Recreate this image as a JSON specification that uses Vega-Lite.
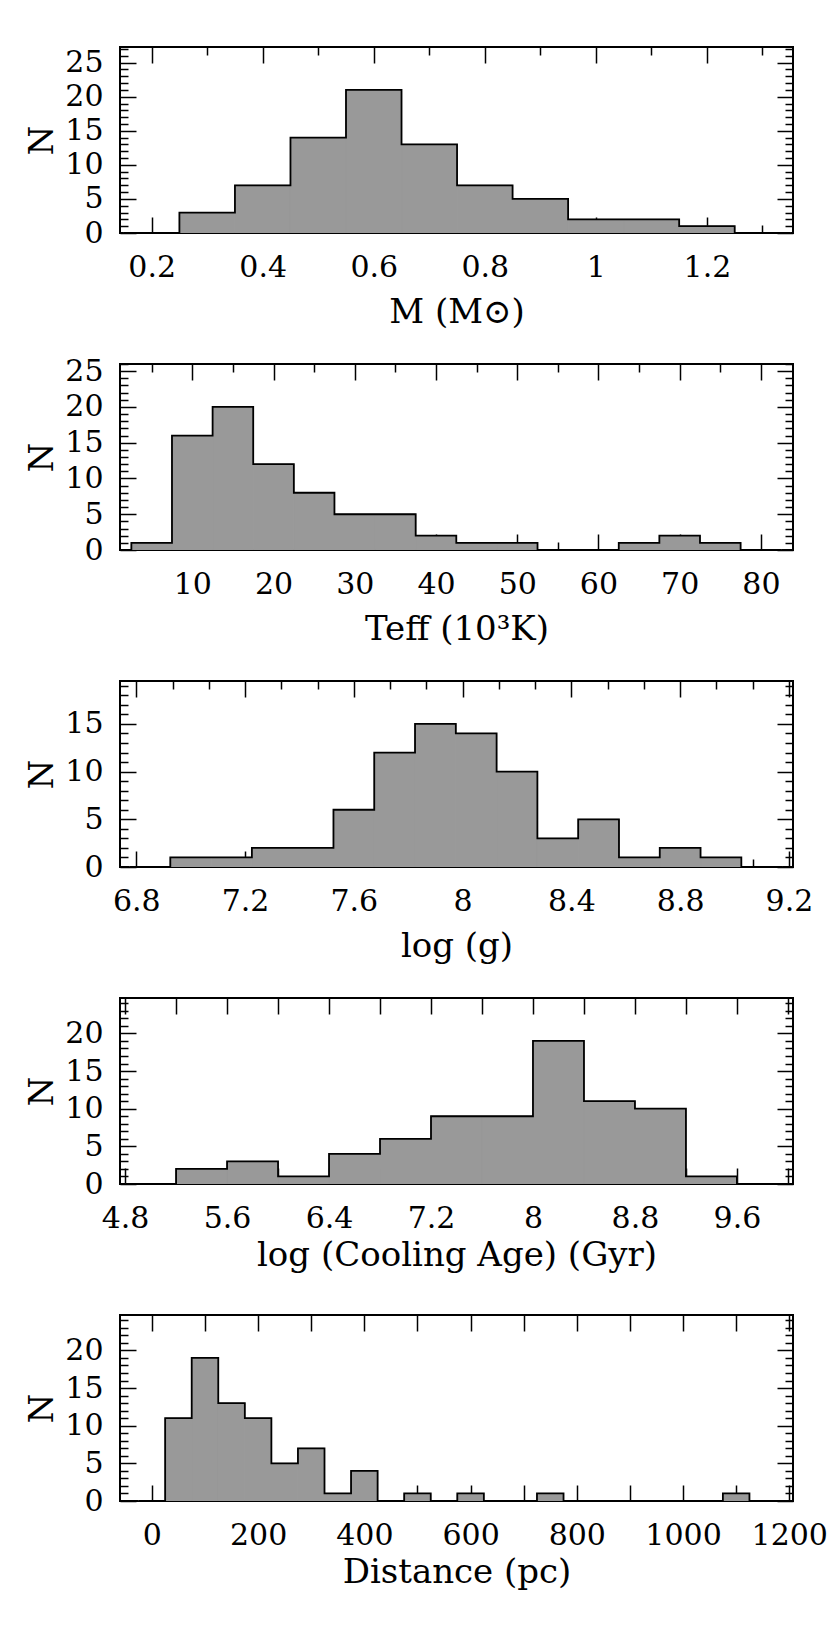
{
  "$schema": "https://vega.github.io/schema/vega-lite/v6.json",
  "padding": {"left": 24, "top": 33, "right": 10, "bottom": 10},
  "background": "white",
  "spacing": 131,
  "bounds": "flush",
  "config": {
    "view": {"stroke": "black", "strokeWidth": 2},
    "axis": {"domain": false, "grid": false, "tickColor": "black", "tickWidth": 1.5, "labelFont": "DejaVu Serif", "labelFontSize": 30, "labelColor": "black", "titleFont": "DejaVu Serif", "titleFontSize": 34, "titleFontWeight": "normal", "titleColor": "black", "labelFlush": false, "labelOverlap": false, "zindex": 1}
  },
  "datasets": {
    "m": [
      {"x0": 0.15, "x1": 0.25, "n": 0}, {"x0": 0.25, "x1": 0.35, "n": 3}, {"x0": 0.35, "x1": 0.45, "n": 7}, {"x0": 0.45, "x1": 0.55, "n": 14}, {"x0": 0.55, "x1": 0.65, "n": 21}, {"x0": 0.65, "x1": 0.75, "n": 13}, {"x0": 0.75, "x1": 0.85, "n": 7}, {"x0": 0.85, "x1": 0.95, "n": 5}, {"x0": 0.95, "x1": 1.05, "n": 2}, {"x0": 1.05, "x1": 1.15, "n": 2}, {"x0": 1.15, "x1": 1.25, "n": 1}, {"x0": 1.25, "x1": 1.35, "n": 0}
    ],
    "teff": [
      {"x0": -2.5, "x1": 2.5, "n": 0}, {"x0": 2.5, "x1": 7.5, "n": 1}, {"x0": 7.5, "x1": 12.5, "n": 16}, {"x0": 12.5, "x1": 17.5, "n": 20}, {"x0": 17.5, "x1": 22.5, "n": 12}, {"x0": 22.5, "x1": 27.5, "n": 8}, {"x0": 27.5, "x1": 32.5, "n": 5}, {"x0": 32.5, "x1": 37.5, "n": 5}, {"x0": 37.5, "x1": 42.5, "n": 2}, {"x0": 42.5, "x1": 47.5, "n": 1}, {"x0": 47.5, "x1": 52.5, "n": 1}, {"x0": 52.5, "x1": 57.5, "n": 0}, {"x0": 57.5, "x1": 62.5, "n": 0}, {"x0": 62.5, "x1": 67.5, "n": 1}, {"x0": 67.5, "x1": 72.5, "n": 2}, {"x0": 72.5, "x1": 77.5, "n": 1}, {"x0": 77.5, "x1": 82.5, "n": 0}
    ],
    "logg": [
      {"x0": 6.775, "x1": 6.925, "n": 0}, {"x0": 6.925, "x1": 7.075, "n": 1}, {"x0": 7.075, "x1": 7.225, "n": 1}, {"x0": 7.225, "x1": 7.375, "n": 2}, {"x0": 7.375, "x1": 7.525, "n": 2}, {"x0": 7.525, "x1": 7.675, "n": 6}, {"x0": 7.675, "x1": 7.825, "n": 12}, {"x0": 7.825, "x1": 7.975, "n": 15}, {"x0": 7.975, "x1": 8.125, "n": 14}, {"x0": 8.125, "x1": 8.275, "n": 10}, {"x0": 8.275, "x1": 8.425, "n": 3}, {"x0": 8.425, "x1": 8.575, "n": 5}, {"x0": 8.575, "x1": 8.725, "n": 1}, {"x0": 8.725, "x1": 8.875, "n": 2}, {"x0": 8.875, "x1": 9.025, "n": 1}, {"x0": 9.025, "x1": 9.175, "n": 0}
    ],
    "age": [
      {"x0": 4.8, "x1": 5.2, "n": 0}, {"x0": 5.2, "x1": 5.6, "n": 2}, {"x0": 5.6, "x1": 6.0, "n": 3}, {"x0": 6.0, "x1": 6.4, "n": 1}, {"x0": 6.4, "x1": 6.8, "n": 4}, {"x0": 6.8, "x1": 7.2, "n": 6}, {"x0": 7.2, "x1": 7.6, "n": 9}, {"x0": 7.6, "x1": 8.0, "n": 9}, {"x0": 8.0, "x1": 8.4, "n": 19}, {"x0": 8.4, "x1": 8.8, "n": 11}, {"x0": 8.8, "x1": 9.2, "n": 10}, {"x0": 9.2, "x1": 9.6, "n": 1}, {"x0": 9.6, "x1": 10.0, "n": 0}
    ],
    "dist": [
      {"x0": -25, "x1": 25, "n": 0}, {"x0": 25, "x1": 75, "n": 11}, {"x0": 75, "x1": 125, "n": 19}, {"x0": 125, "x1": 175, "n": 13}, {"x0": 175, "x1": 225, "n": 11}, {"x0": 225, "x1": 275, "n": 5}, {"x0": 275, "x1": 325, "n": 7}, {"x0": 325, "x1": 375, "n": 1}, {"x0": 375, "x1": 425, "n": 4}, {"x0": 425, "x1": 475, "n": 0}, {"x0": 475, "x1": 525, "n": 1}, {"x0": 525, "x1": 575, "n": 0}, {"x0": 575, "x1": 625, "n": 1}, {"x0": 625, "x1": 675, "n": 0}, {"x0": 675, "x1": 725, "n": 0}, {"x0": 725, "x1": 775, "n": 1}, {"x0": 775, "x1": 825, "n": 0}, {"x0": 825, "x1": 875, "n": 0}, {"x0": 875, "x1": 925, "n": 0}, {"x0": 925, "x1": 975, "n": 0}, {"x0": 975, "x1": 1025, "n": 0}, {"x0": 1025, "x1": 1075, "n": 0}, {"x0": 1075, "x1": 1125, "n": 1}, {"x0": 1125, "x1": 1175, "n": 0}
    ]
  },
  "vconcat": [
    {
      "width": 673, "height": 186,
      "data": {"name": "m"},
      "resolve": {"axis": {"x": "independent", "y": "independent"}},
      "layer": [
        {
          "mark": {"type": "rect", "fill": "#999999", "stroke": "#999999", "strokeWidth": 1, "clip": true},
          "encoding": {
            "x": {"field": "x0", "type": "quantitative", "scale": {"domain": [0.143, 1.355], "nice": false, "zero": false},
              "axis": {"orient": "bottom", "values": [0.2,0.3,0.4,0.5,0.6,0.7,0.8,0.9,1,1.1,1.2,1.3], "tickSize": {"condition": {"test": "indexof([0.2,0.4,0.6,0.8,1,1.2], datum.value) >= 0", "value": -16}, "value": -8}, "labelExpr": "indexof([0.2,0.4,0.6,0.8,1,1.2], datum.value) >= 0 ? '' + datum.value : ''", "labelPadding": 35, "title": "M (M⊙)", "titlePadding": 5}},
            "x2": {"field": "x1"},
            "y": {"field": "n", "type": "quantitative", "scale": {"domain": [0, 27.3], "nice": false, "zero": false},
              "axis": {"orient": "left", "values": [0,1,2,3,4,5,6,7,8,9,10,11,12,13,14,15,16,17,18,19,20,21,22,23,24,25,26,27], "tickSize": {"condition": {"test": "datum.value % 5 === 0", "value": -16}, "value": -8}, "labelExpr": "datum.value % 5 === 0 ? '' + datum.value : ''", "labelPadding": 33, "title": "N", "titlePadding": 5}},
            "y2": {"datum": 0}
          }
        },
        {
          "transform": [{"fold": ["x0", "x1"], "as": ["side", "edge"]}],
          "mark": {"type": "line", "stroke": "black", "strokeWidth": 1.8, "clip": true},
          "encoding": {
            "x": {"field": "edge", "type": "quantitative", "scale": {"domain": [0.143, 1.355], "nice": false, "zero": false},
              "axis": {"orient": "top", "values": [0.2,0.3,0.4,0.5,0.6,0.7,0.8,0.9,1,1.1,1.2,1.3], "tickSize": {"condition": {"test": "indexof([0.2,0.4,0.6,0.8,1,1.2], datum.value) >= 0", "value": -16}, "value": -8}, "labels": false, "title": null}},
            "y": {"field": "n", "type": "quantitative", "scale": {"domain": [0, 27.3], "nice": false, "zero": false},
              "axis": {"orient": "right", "values": [0,1,2,3,4,5,6,7,8,9,10,11,12,13,14,15,16,17,18,19,20,21,22,23,24,25,26,27], "tickSize": {"condition": {"test": "datum.value % 5 === 0", "value": -16}, "value": -8}, "labels": false, "title": null}},
            "order": [{"field": "edge", "type": "quantitative"}, {"field": "x0", "type": "quantitative"}]
          }
        }
      ]
    },
    {
      "width": 673, "height": 186,
      "data": {"name": "teff"},
      "resolve": {"axis": {"x": "independent", "y": "independent"}},
      "layer": [
        {
          "mark": {"type": "rect", "fill": "#999999", "stroke": "#999999", "strokeWidth": 1, "clip": true},
          "encoding": {
            "x": {"field": "x0", "type": "quantitative", "scale": {"domain": [1.1, 83.95], "nice": false, "zero": false},
              "axis": {"orient": "bottom", "values": [5,10,15,20,25,30,35,40,45,50,55,60,65,70,75,80], "tickSize": {"condition": {"test": "datum.value % 10 === 0", "value": -16}, "value": -8}, "labelExpr": "datum.value % 10 === 0 ? '' + datum.value : ''", "labelPadding": 35, "title": "Teff (10³K)", "titlePadding": 5}},
            "x2": {"field": "x1"},
            "y": {"field": "n", "type": "quantitative", "scale": {"domain": [0, 26], "nice": false, "zero": false},
              "axis": {"orient": "left", "values": [0,1,2,3,4,5,6,7,8,9,10,11,12,13,14,15,16,17,18,19,20,21,22,23,24,25,26], "tickSize": {"condition": {"test": "datum.value % 5 === 0", "value": -16}, "value": -8}, "labelExpr": "datum.value % 5 === 0 ? '' + datum.value : ''", "labelPadding": 33, "title": "N", "titlePadding": 5}},
            "y2": {"datum": 0}
          }
        },
        {
          "transform": [{"fold": ["x0", "x1"], "as": ["side", "edge"]}],
          "mark": {"type": "line", "stroke": "black", "strokeWidth": 1.8, "clip": true},
          "encoding": {
            "x": {"field": "edge", "type": "quantitative", "scale": {"domain": [1.1, 83.95], "nice": false, "zero": false},
              "axis": {"orient": "top", "values": [5,10,15,20,25,30,35,40,45,50,55,60,65,70,75,80], "tickSize": {"condition": {"test": "datum.value % 10 === 0", "value": -16}, "value": -8}, "labels": false, "title": null}},
            "y": {"field": "n", "type": "quantitative", "scale": {"domain": [0, 26], "nice": false, "zero": false},
              "axis": {"orient": "right", "values": [0,1,2,3,4,5,6,7,8,9,10,11,12,13,14,15,16,17,18,19,20,21,22,23,24,25,26], "tickSize": {"condition": {"test": "datum.value % 5 === 0", "value": -16}, "value": -8}, "labels": false, "title": null}},
            "order": [{"field": "edge", "type": "quantitative"}, {"field": "x0", "type": "quantitative"}]
          }
        }
      ]
    },
    {
      "width": 673, "height": 186,
      "data": {"name": "logg"},
      "resolve": {"axis": {"x": "independent", "y": "independent"}},
      "layer": [
        {
          "mark": {"type": "rect", "fill": "#999999", "stroke": "#999999", "strokeWidth": 1, "clip": true},
          "encoding": {
            "x": {"field": "x0", "type": "quantitative", "scale": {"domain": [6.74, 9.215], "nice": false, "zero": false},
              "axis": {"orient": "bottom", "values": [6.8,6.9333,7.0667,7.2,7.3333,7.4667,7.6,7.7333,7.8667,8,8.1333,8.2667,8.4,8.5333,8.6667,8.8,8.9333,9.0667,9.2], "tickSize": {"condition": {"test": "indexof([6.8,7.2,7.6,8,8.4,8.8,9.2], datum.value) >= 0", "value": -16}, "value": -8}, "labelExpr": "indexof([6.8,7.2,7.6,8,8.4,8.8,9.2], datum.value) >= 0 ? '' + datum.value : ''", "labelPadding": 35, "title": "log (g)", "titlePadding": 5}},
            "x2": {"field": "x1"},
            "y": {"field": "n", "type": "quantitative", "scale": {"domain": [0, 19.5], "nice": false, "zero": false},
              "axis": {"orient": "left", "values": [0,1,2,3,4,5,6,7,8,9,10,11,12,13,14,15,16,17,18,19], "tickSize": {"condition": {"test": "datum.value % 5 === 0", "value": -16}, "value": -8}, "labelExpr": "datum.value % 5 === 0 ? '' + datum.value : ''", "labelPadding": 33, "title": "N", "titlePadding": 5}},
            "y2": {"datum": 0}
          }
        },
        {
          "transform": [{"fold": ["x0", "x1"], "as": ["side", "edge"]}],
          "mark": {"type": "line", "stroke": "black", "strokeWidth": 1.8, "clip": true},
          "encoding": {
            "x": {"field": "edge", "type": "quantitative", "scale": {"domain": [6.74, 9.215], "nice": false, "zero": false},
              "axis": {"orient": "top", "values": [6.8,6.9333,7.0667,7.2,7.3333,7.4667,7.6,7.7333,7.8667,8,8.1333,8.2667,8.4,8.5333,8.6667,8.8,8.9333,9.0667,9.2], "tickSize": {"condition": {"test": "indexof([6.8,7.2,7.6,8,8.4,8.8,9.2], datum.value) >= 0", "value": -16}, "value": -8}, "labels": false, "title": null}},
            "y": {"field": "n", "type": "quantitative", "scale": {"domain": [0, 19.5], "nice": false, "zero": false},
              "axis": {"orient": "right", "values": [0,1,2,3,4,5,6,7,8,9,10,11,12,13,14,15,16,17,18,19], "tickSize": {"condition": {"test": "datum.value % 5 === 0", "value": -16}, "value": -8}, "labels": false, "title": null}},
            "order": [{"field": "edge", "type": "quantitative"}, {"field": "x0", "type": "quantitative"}]
          }
        }
      ]
    },
    {
      "width": 673, "height": 186,
      "data": {"name": "age"},
      "resolve": {"axis": {"x": "independent", "y": "independent"}},
      "layer": [
        {
          "mark": {"type": "rect", "fill": "#999999", "stroke": "#999999", "strokeWidth": 1, "clip": true},
          "encoding": {
            "x": {"field": "x0", "type": "quantitative", "scale": {"domain": [4.76, 10.04], "nice": false, "zero": false},
              "axis": {"orient": "bottom", "values": [4.8,5.2,5.6,6,6.4,6.8,7.2,7.6,8,8.4,8.8,9.2,9.6,10], "tickSize": -16, "labelExpr": "indexof([4.8,5.6,6.4,7.2,8,8.8,9.6], datum.value) >= 0 ? '' + datum.value : ''", "labelPadding": 35, "title": "log (Cooling Age) (Gyr)", "titlePadding": 5}},
            "x2": {"field": "x1"},
            "y": {"field": "n", "type": "quantitative", "scale": {"domain": [0, 24.7], "nice": false, "zero": false},
              "axis": {"orient": "left", "values": [0,1,2,3,4,5,6,7,8,9,10,11,12,13,14,15,16,17,18,19,20,21,22,23,24], "tickSize": {"condition": {"test": "datum.value % 5 === 0", "value": -16}, "value": -8}, "labelExpr": "datum.value % 5 === 0 ? '' + datum.value : ''", "labelPadding": 33, "title": "N", "titlePadding": 5}},
            "y2": {"datum": 0}
          }
        },
        {
          "transform": [{"fold": ["x0", "x1"], "as": ["side", "edge"]}],
          "mark": {"type": "line", "stroke": "black", "strokeWidth": 1.8, "clip": true},
          "encoding": {
            "x": {"field": "edge", "type": "quantitative", "scale": {"domain": [4.76, 10.04], "nice": false, "zero": false},
              "axis": {"orient": "top", "values": [4.8,5.2,5.6,6,6.4,6.8,7.2,7.6,8,8.4,8.8,9.2,9.6,10], "tickSize": -16, "labels": false, "title": null}},
            "y": {"field": "n", "type": "quantitative", "scale": {"domain": [0, 24.7], "nice": false, "zero": false},
              "axis": {"orient": "right", "values": [0,1,2,3,4,5,6,7,8,9,10,11,12,13,14,15,16,17,18,19,20,21,22,23,24], "tickSize": {"condition": {"test": "datum.value % 5 === 0", "value": -16}, "value": -8}, "labels": false, "title": null}},
            "order": [{"field": "edge", "type": "quantitative"}, {"field": "x0", "type": "quantitative"}]
          }
        }
      ]
    },
    {
      "width": 673, "height": 186,
      "data": {"name": "dist"},
      "resolve": {"axis": {"x": "independent", "y": "independent"}},
      "layer": [
        {
          "mark": {"type": "rect", "fill": "#999999", "stroke": "#999999", "strokeWidth": 1, "clip": true},
          "encoding": {
            "x": {"field": "x0", "type": "quantitative", "scale": {"domain": [-60, 1207], "nice": false, "zero": false},
              "axis": {"orient": "bottom", "values": [0,100,200,300,400,500,600,700,800,900,1000,1100,1200], "tickSize": -16, "labelExpr": "datum.value % 200 === 0 ? '' + datum.value : ''", "labelPadding": 35, "title": "Distance (pc)", "titlePadding": 5}},
            "x2": {"field": "x1"},
            "y": {"field": "n", "type": "quantitative", "scale": {"domain": [0, 24.7], "nice": false, "zero": false},
              "axis": {"orient": "left", "values": [0,1,2,3,4,5,6,7,8,9,10,11,12,13,14,15,16,17,18,19,20,21,22,23,24], "tickSize": {"condition": {"test": "datum.value % 5 === 0", "value": -16}, "value": -8}, "labelExpr": "datum.value % 5 === 0 ? '' + datum.value : ''", "labelPadding": 33, "title": "N", "titlePadding": 5}},
            "y2": {"datum": 0}
          }
        },
        {
          "transform": [{"fold": ["x0", "x1"], "as": ["side", "edge"]}],
          "mark": {"type": "line", "stroke": "black", "strokeWidth": 1.8, "clip": true},
          "encoding": {
            "x": {"field": "edge", "type": "quantitative", "scale": {"domain": [-60, 1207], "nice": false, "zero": false},
              "axis": {"orient": "top", "values": [0,100,200,300,400,500,600,700,800,900,1000,1100,1200], "tickSize": -16, "labels": false, "title": null}},
            "y": {"field": "n", "type": "quantitative", "scale": {"domain": [0, 24.7], "nice": false, "zero": false},
              "axis": {"orient": "right", "values": [0,1,2,3,4,5,6,7,8,9,10,11,12,13,14,15,16,17,18,19,20,21,22,23,24], "tickSize": {"condition": {"test": "datum.value % 5 === 0", "value": -16}, "value": -8}, "labels": false, "title": null}},
            "order": [{"field": "edge", "type": "quantitative"}, {"field": "x0", "type": "quantitative"}]
          }
        }
      ]
    }
  ]
}
